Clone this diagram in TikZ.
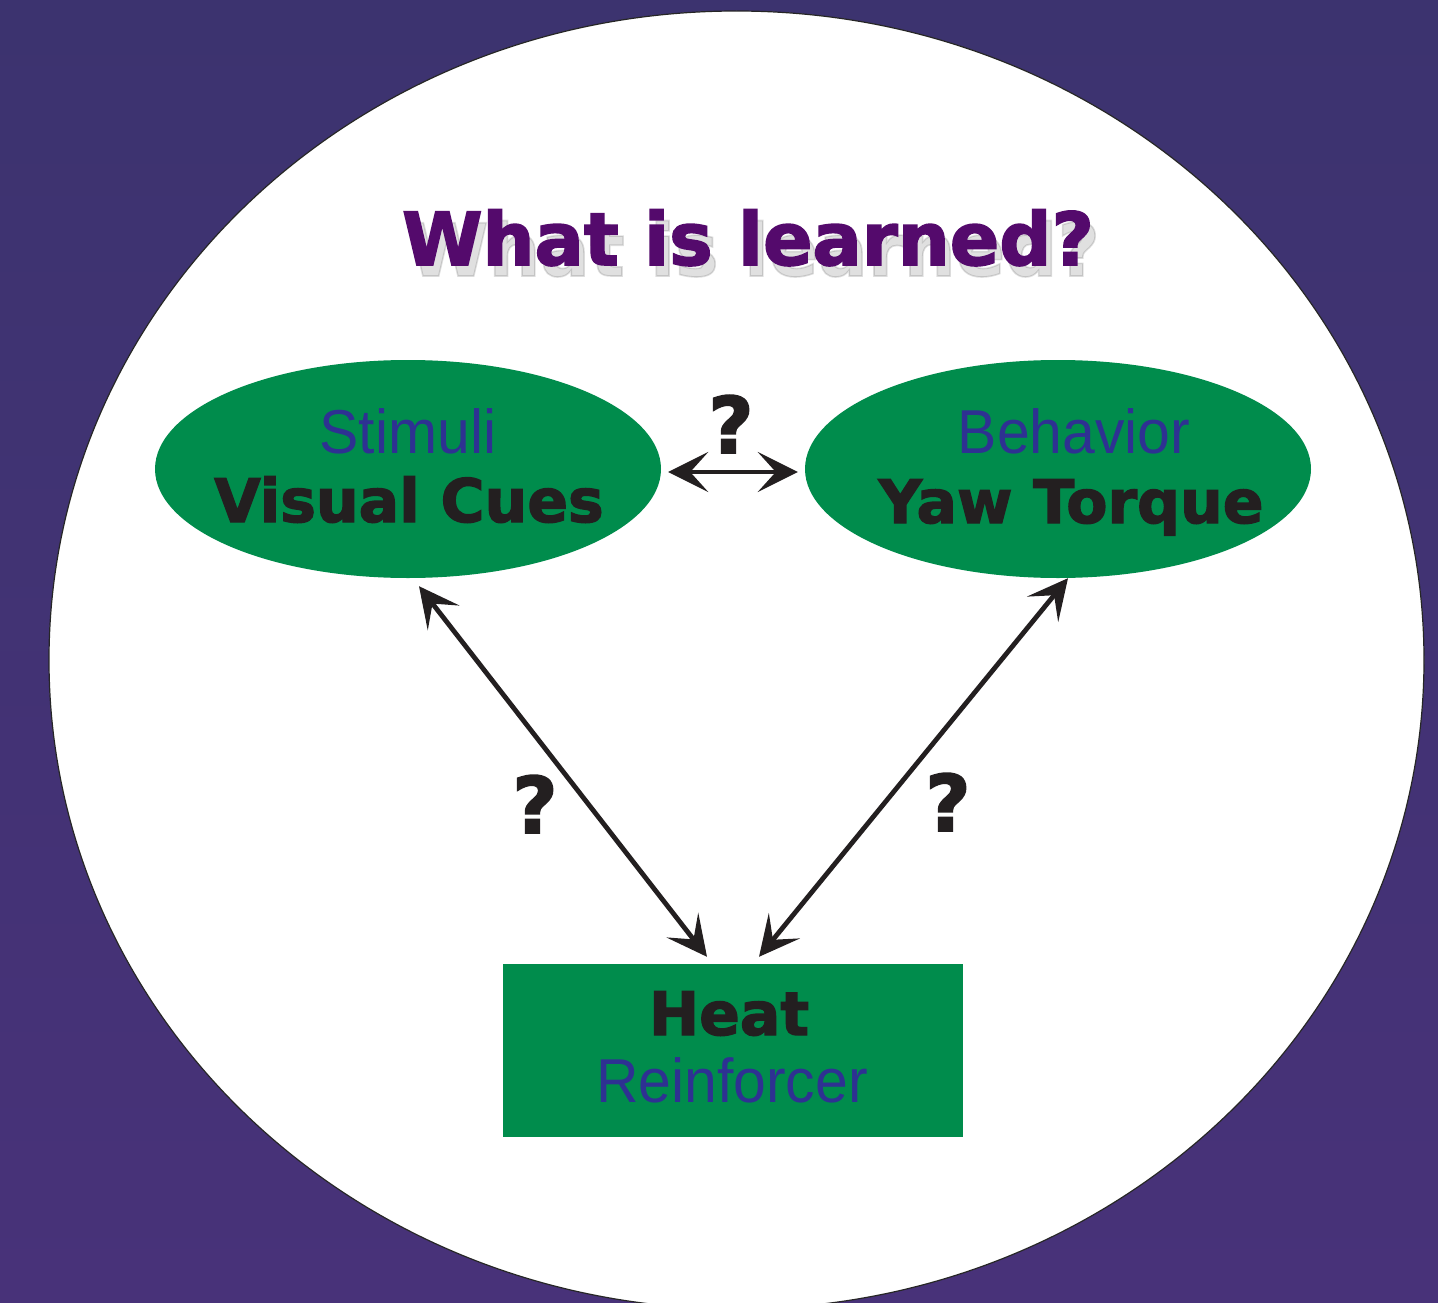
\documentclass[tikz,border=0pt]{standalone}
\usepackage{fontspec}
\usetikzlibrary{shapes.geometric,arrows.meta,calc}
\newfontfamily\dvs{DejaVu Sans Bold}[FakeBold=2.2]
\newfontfamily\libn{Liberation Sans}[FakeStretch=0.95]
\definecolor{bgtop}{RGB}{60,51,111}
\definecolor{bgbot}{RGB}{72,50,121}
\definecolor{grn}{RGB}{0,140,76}
\definecolor{blu}{RGB}{46,49,146}
\definecolor{blk}{RGB}{35,31,32}
\definecolor{ttl}{RGB}{84,10,108}
\tikzset{
  disc/.style={ellipse, fill=white, draw=black!85, line width=1.2pt, inner sep=0pt,
    minimum width=1375pt, minimum height=1298pt},
  oval/.style={ellipse, fill=grn, inner sep=0pt, minimum width=506pt, minimum height=218pt},
  box/.style={rectangle, fill=grn, inner sep=0pt, minimum width=460pt, minimum height=173pt},
  light/.style={font=\libn\fontsize{62}{70}\selectfont, text=blu, inner sep=0pt, anchor=base},
  heavy/.style={font=\dvs\fontsize{60}{70}\selectfont, text=blk, inner sep=0pt, anchor=base},
  qmark/.style={font=\dvs\fontsize{78}{80}\selectfont, text=blk, inner sep=0pt, anchor=base},
  titletext/.style={font=\dvs\fontsize{73}{80}\selectfont, inner sep=0pt, anchor=base},
  tipshape/.tip={Stealth[length=40pt,width=40pt,inset=18pt]},
  link/.style={draw=blk, line width=4.8pt, tipshape-tipshape},
}
\begin{document}
\begin{tikzpicture}[x=1pt,y=-1pt]
  \useasboundingbox (0,0) rectangle (1438,1303);
  \shade[top color=bgtop, bottom color=bgbot] (0,0) rectangle (1438,1303);
  \node[disc] (disc) at (736.5,660) {};

  % title with soft shadow
  \node[titletext, text=black, opacity=0.12] (titleshadow) at (754,276) {What is learned?};
  \node[titletext, text=ttl] (title) at (748,265) {What is learned?};

  % nodes
  \node[oval] (stim) at (408,469) {};
  \node[light] (stimA) at (408,453) {Stimuli};
  \node[heavy] (stimB) at (409,522) {Visual Cues};

  \node[oval] (beh) at (1058,469) {};
  \node[light] (behA) at (1074,453) {Behavior};
  \node[heavy] (behB) at (1071,523) {Yaw Torque};

  \node[box] (heat) at (733,1050.5) {};
  \node[heavy] (heatA) at (729,1035) {Heat};
  \node[light] (heatB) at (732,1102) {Reinforcer};

  % connector end points
  \coordinate (sE) at ($(stim.east)+(7,3)$);
  \coordinate (bW) at ($(beh.west)+(-7,3)$);
  \coordinate (sS) at ($(stim.south)+(11,8)$);
  \coordinate (bS) at ($(beh.south)+(10,0)$);
  \coordinate (hL) at ($(heat.north)+(-26,-7)$);
  \coordinate (hR) at ($(heat.north)+(26,-7)$);

  \draw[link] (sE) -- (bW);
  \draw[link] (sS) -- (hL);
  \draw[link] (bS) -- (hR);

  % question marks
  \node[qmark] (q1) at (731,453) {?};
  \node[qmark] (q2) at (535,833) {?};
  \node[qmark] (q3) at (948,831) {?};
\end{tikzpicture}
\end{document}
